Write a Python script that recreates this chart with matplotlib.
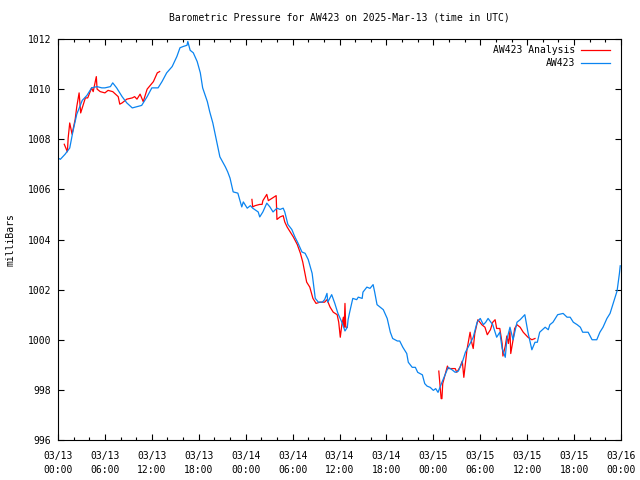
import numpy as np
import pandas as pd
import matplotlib
matplotlib.use("Agg")
import matplotlib.pyplot as plt
import matplotlib.dates as mdates

# -------- Data (hours after 2025-03-13 00:00 UTC, millibars) --------
start = pd.Timestamp("2025-03-13 00:00")

obs_hours = [
    0.0, 0.3, 0.9, 1.5, 1.9, 2.4, 3.1, 3.7, 4.3, 5.0, 5.6, 6.0, 6.7, 7.0, 7.5,
    8.2, 8.8, 9.5, 10.1, 10.7, 11.4, 12.0, 12.8, 13.3, 13.9, 14.6, 15.2, 15.6,
    16.0, 16.5, 16.6, 16.9, 17.3, 17.8, 18.2, 18.5, 19.1, 19.4, 19.8, 20.3,
    20.7, 21.4, 21.7, 22.0, 22.4, 23.0, 23.5, 23.7, 24.2, 24.6, 24.9, 25.6,
    25.8, 26.2, 26.7, 27.1, 27.5, 28.0, 28.4, 28.8, 29.0, 29.4, 29.9, 30.3,
    30.7, 31.2, 31.6, 32.0, 32.5, 32.9, 33.3, 33.8, 34.1, 34.4, 34.5, 35.0,
    35.4, 35.8, 36.3, 36.7, 37.0, 37.1, 37.3, 37.7, 38.2, 38.4, 38.9, 39.0,
    39.5, 39.9, 40.3, 40.5, 40.8, 41.2, 41.6, 42.1, 42.5, 42.8, 43.4, 43.7,
    44.1, 44.6, 44.8, 45.3, 45.7, 46.0, 46.6, 46.9, 47.2, 47.6, 48.0, 48.3,
    48.6, 49.1, 49.5, 49.9, 50.4, 50.8, 51.2, 51.7, 52.1, 52.7, 53.1, 53.6,
    54.0, 54.4, 54.7, 55.0, 55.6, 56.1, 56.5, 56.8, 57.2, 57.4, 57.8, 58.2,
    58.7, 59.1, 59.7, 60.1, 60.6, 61.0, 61.3, 61.6, 62.3, 62.7, 62.9, 63.3,
    63.9, 64.6, 65.1, 65.5, 65.9, 66.4, 66.8, 67.1, 67.8, 68.3, 68.9, 69.3,
    69.7, 70.2, 70.6, 71.0, 71.5, 71.8, 71.9,
]
obs_mb = [
    1007.25, 1007.2, 1007.4, 1007.65, 1008.3, 1009.0, 1009.55, 1009.75, 1010.05,
    1010.1, 1010.05, 1010.05, 1010.1, 1010.25, 1010.05, 1009.7, 1009.45, 1009.25,
    1009.3, 1009.35, 1009.7, 1010.05, 1010.05, 1010.3, 1010.65, 1010.9, 1011.3,
    1011.65, 1011.7, 1011.75, 1011.9, 1011.55, 1011.45, 1011.1, 1010.65, 1010.05,
    1009.5, 1009.1, 1008.65, 1007.9, 1007.3, 1006.9, 1006.7, 1006.45, 1005.9,
    1005.85, 1005.3, 1005.5, 1005.25, 1005.35, 1005.25, 1005.1, 1004.9, 1005.1,
    1005.45, 1005.3, 1005.1, 1005.25, 1005.2, 1005.25, 1005.1, 1004.6, 1004.4,
    1004.1, 1003.85, 1003.5, 1003.45, 1003.2, 1002.65, 1001.65, 1001.5, 1001.5,
    1001.6, 1001.85, 1001.5, 1001.8, 1001.45, 1001.05, 1000.7, 1000.35, 1000.5,
    1000.8, 1001.1, 1001.65, 1001.6, 1001.7, 1001.65, 1001.9, 1002.1, 1002.05,
    1002.2, 1001.9, 1001.4, 1001.3, 1001.2, 1000.85, 1000.3, 1000.05, 999.95,
    999.95, 999.7, 999.45, 999.1, 998.9, 998.9, 998.7, 998.6, 998.25, 998.15,
    998.1, 997.98, 998.05, 997.9, 998.3, 998.6, 998.9, 998.8, 998.7, 998.75,
    999.1, 999.5, 999.85, 1000.1, 1000.7, 1000.85, 1000.6, 1000.7, 1000.85,
    1000.6, 1000.1, 1000.3, 999.65, 999.3, 1000.0, 1000.5, 1000.0, 1000.7,
    1000.8, 1001.0, 1000.3, 999.6, 999.9, 999.9, 1000.3, 1000.5, 1000.4, 1000.6,
    1000.7, 1001.0, 1001.05, 1000.9, 1000.9, 1000.7, 1000.6, 1000.5, 1000.3,
    1000.3, 1000.0, 1000.0, 1000.3, 1000.5, 1000.85, 1001.05, 1001.45, 1001.95,
    1002.65, 1002.95,
]

# analysis runs, gaps marked with nan
ana_hours = [
    0.8, 1.2, 1.3, 1.5, 1.8, 2.2, 2.4, 2.7, 2.9, 3.2, 3.5, 3.8, 4.3, 4.5, 4.9,
    5.0, 5.4, 6.0, 6.4, 7.0, 7.7, 7.9, 8.2, 8.8, 9.5, 9.8, 10.1, 10.5, 10.9,
    11.4, 11.8, 12.2, 12.7, 13.0,
    np.nan,
    24.8, 24.9, 25.2, 25.8, 26.1, 26.2, 26.7, 26.9, 27.4, 27.9, 28.0, 28.4,
    28.8, 29.0, 29.3, 29.7, 30.1, 30.6, 31.0, 31.3, 31.8, 32.2, 32.6, 33.0,
    33.5, 34.1, 34.4, 34.8, 35.2, 35.7, 35.9, 36.1, 36.3, 36.5, 36.6, 36.7,
    36.8, 37.0,
    np.nan,
    48.7, 49.0, 49.1, 49.2, 49.5, 49.8, 49.9, 50.4, 50.8, 51.0, 51.4, 51.7,
    51.9, 52.3, 52.7, 52.9, 53.1, 53.3, 53.7, 54.2, 54.6, 54.9, 55.3, 55.6,
    55.9, 56.1, 56.5, 56.8, 56.9, 57.2, 57.4, 57.6, 57.8, 57.9, 58.2, 58.4,
    58.7, 59.1, 59.5, 60.1, 60.6, 61.0,
]
ana_mb = [
    1007.8, 1007.5, 1008.05, 1008.65, 1008.2, 1008.8, 1009.3, 1009.85, 1009.05,
    1009.35, 1009.65, 1009.65, 1010.05, 1009.9, 1010.5, 1010.0, 1009.9, 1009.85,
    1009.95, 1009.9, 1009.7, 1009.4, 1009.45, 1009.6, 1009.65, 1009.7, 1009.6,
    1009.8, 1009.5, 1010.0, 1010.15, 1010.3, 1010.65, 1010.7,
    np.nan,
    1005.6, 1005.3, 1005.35, 1005.4, 1005.4, 1005.55, 1005.8, 1005.55, 1005.65,
    1005.75, 1004.8, 1004.9, 1004.95, 1004.7, 1004.5, 1004.3, 1004.1, 1003.8,
    1003.45, 1003.1, 1002.3, 1002.1, 1001.65, 1001.45, 1001.5, 1001.5, 1001.6,
    1001.3, 1001.1, 1001.0, 1000.7, 1000.1, 1000.6, 1000.9, 1000.5, 1001.45,
    1000.5, 1000.5,
    np.nan,
    998.75, 997.65, 997.65, 998.25, 998.6, 998.95, 998.85, 998.85, 998.85, 998.7,
    998.9, 999.15, 998.5, 999.6, 1000.3, 999.9, 999.65, 1000.25, 1000.8, 1000.6,
    1000.5, 1000.2, 1000.4, 1000.7, 1000.8, 1000.45, 1000.45, 999.85, 999.35,
    999.75, 1000.15, 999.85, 1000.35, 999.45, 1000.0, 1000.45, 1000.6, 1000.5,
    1000.3, 1000.1, 1000.0, 1000.05,
]

obs_t = start + pd.to_timedelta(obs_hours, unit="h")
ana_t = start + pd.to_timedelta(np.array(ana_hours), unit="h")

# -------- Plot --------
plt.rcParams["font.family"] = ["DejaVu Sans Mono"]
plt.rcParams["font.size"] = 7

fig = plt.figure(figsize=(6.4, 4.8), dpi=100)
ax = fig.add_axes([58 / 640, 40 / 480, 563 / 640, 401 / 480])

ax.plot(ana_t, ana_mb, color="#ff0000", lw=0.9, label="AW423 Analysis")
ax.plot(obs_t, obs_mb, color="#0a84f0", lw=0.9, label="AW423")

ax.set_xlim(start, start + pd.Timedelta(hours=72))
ax.set_ylim(996, 1012)
ax.set_yticks(np.arange(996, 1013, 2))

ax.xaxis.set_major_locator(mdates.HourLocator(byhour=[0, 6, 12, 18]))
ax.xaxis.set_minor_locator(mdates.HourLocator(interval=2))
ax.xaxis.set_major_formatter(mdates.DateFormatter("%m/%d\n%H:%M"))

ax.tick_params(which="both", direction="in", top=True, right=True, width=0.8,
               labelsize=7)
ax.tick_params(which="major", length=4)
ax.tick_params(which="minor", length=2)
ax.tick_params(axis="x", pad=8)
ax.tick_params(axis="y", pad=5)
for s in ax.spines.values():
    s.set_linewidth(0.8)

ax.set_ylabel("milliBars", labelpad=9, fontsize=7)
ax.set_title("Barometric Pressure for AW423 on 2025-Mar-13 (time in UTC)",
             pad=13, fontsize=7)

leg = ax.legend(loc="upper right", bbox_to_anchor=(1 - 11 / 563, 1 - 6 / 401),
                frameon=False, markerfirst=False, borderaxespad=0, borderpad=0,
                handlelength=3.0, handletextpad=0.6, labelspacing=0.3,
                fontsize=7)

fig.canvas.draw()
for lbl in ax.get_xticklabels():
    lbl.set_linespacing(1.5)

fig.savefig("out.png", dpi=100)
